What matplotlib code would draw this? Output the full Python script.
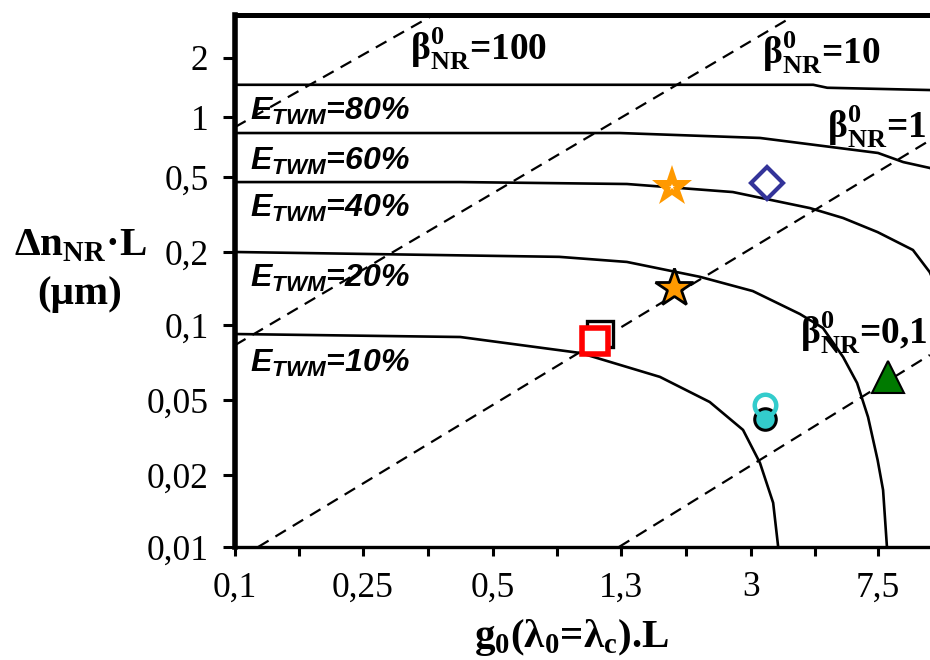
import numpy as np
import matplotlib
matplotlib.use("Agg")
import matplotlib.pyplot as plt
from matplotlib.ticker import FixedLocator, FixedFormatter, NullFormatter

# ---------------- data ----------------
x_tick_values = [0.1, 0.25, 0.5, 1.3, 3, 7.5]
x_tick_labels = ['0,1', '0,25', '0,5', '1,3', '3', '7,5']
y_tick_values = [0.01, 0.02, 0.05, 0.1, 0.2, 0.5, 1, 2]
y_tick_labels = ['0,01', '0,02', '0,05', '0,1', '0,2', '0,5', '1', '2']

# E_TWM iso-efficiency curves (g0.L , dn.L)
e80_x = [0.1, 4.7, 5.2, 11.5]
e80_y = [1.46, 1.46, 1.41, 1.37]
e60_x = [0.1, 1.29, 3.2, 7.5, 9.0, 10.9, 11.5]
e60_y = [0.831, 0.831, 0.785, 0.66, 0.594, 0.555, 0.53]
e40_x = [0.1, 0.42, 1.35, 2.67, 4.59, 5.83, 7.48, 9.65, 10.9, 11.5]
e40_y = [0.47, 0.47, 0.459, 0.416, 0.342, 0.303, 0.255, 0.205, 0.165, 0.14]
e20_x = [0.1, 0.82, 1.35, 2.16, 3.04, 4.27, 5.04, 5.83, 6.45, 6.98, 7.48, 7.78, 8.0]
e20_y = [0.2, 0.191, 0.182, 0.158, 0.138, 0.111, 0.0973, 0.0744, 0.0585, 0.0406, 0.024, 0.0173, 0.01]
e10_x = [0.1, 0.42, 0.96, 1.67, 2.3, 2.85, 3.2, 3.52, 3.65]
e10_y = [0.092, 0.0895, 0.0772, 0.0619, 0.0488, 0.0347, 0.0232, 0.0153, 0.01]
e_labels = ['80%', '60%', '40%', '20%', '10%']

# beta_NR iso-lines (dashed), end points
b100_x = [0.1, 0.357]
b100_y = [0.89, 3.24]
b10_x = [0.1, 3.98]
b10_y = [0.083, 3.2]
b1_x = [0.118, 10.7]
b1_y = [0.01, 0.75]
b01_x = [1.28, 10.9]
b01_y = [0.01, 0.0758]
beta_labels = ['100', '10', '1', '0,1']

# experimental points
star_open_x, star_open_y = [1.80], [0.442]
diamond_x, diamond_y = [3.37], [0.465]
star_edged_x, star_edged_y = [1.83], [0.142]
square_black_x, square_black_y = [1.11], [0.092]
square_red_x, square_red_y = [1.07], [0.0863]
circle_fill_x, circle_fill_y = [3.32], [0.0396]
circle_open_x, circle_open_y = [3.32], [0.047]
triangle_x, triangle_y = [8.06], [0.062]

# ---------------- layout (pixel positions of the ticks) ----------------
W, H = 930, 660
AX_L, AX_R, AX_B, AX_T = 235, 930, 547, 15
x_tick_pos = [0, 128, 258, 386, 516, 643]          # px from left spine
y_tick_pos = [0, 72, 147, 222, 295, 370, 430, 489] # px from bottom spine


def make_funcs(vals, pos):
    lv = np.log10(np.asarray(vals, float))
    ps = np.asarray(pos, float)
    s0 = (ps[1] - ps[0]) / (lv[1] - lv[0])
    s1 = (ps[-1] - ps[-2]) / (lv[-1] - lv[-2])

    def fwd(v):
        v = np.asarray(v, float)
        with np.errstate(divide='ignore', invalid='ignore'):
            l = np.log10(np.where(v > 0, v, np.nan))
            out = np.interp(l, lv, ps)
            out = np.where(l < lv[0], ps[0] + (l - lv[0]) * s0, out)
            out = np.where(l > lv[-1], ps[-1] + (l - lv[-1]) * s1, out)
        return out

    def inv(p):
        p = np.asarray(p, float)
        l = np.interp(p, ps, lv)
        l = np.where(p < ps[0], lv[0] + (p - ps[0]) / s0, l)
        l = np.where(p > ps[-1], lv[-1] + (p - ps[-1]) / s1, l)
        return 10 ** l

    return fwd, inv


plt.rcParams['mathtext.fontset'] = 'custom'
plt.rcParams['mathtext.rm'] = 'Liberation Serif:bold'
plt.rcParams['mathtext.bf'] = 'Liberation Serif:bold'
plt.rcParams['mathtext.it'] = 'Liberation Sans:bold:italic'

fig = plt.figure(figsize=(W / 100, H / 100), dpi=100)
ax = fig.add_axes([AX_L / W, (H - AX_B) / H, (AX_R - AX_L) / W, (AX_B - AX_T) / H])

fx, ix = make_funcs(x_tick_values, x_tick_pos)
fy, iy = make_funcs(y_tick_values, y_tick_pos)
ax.set_xscale('function', functions=(fx, ix))
ax.set_yscale('function', functions=(fy, iy))
ax.set_xlim(float(ix(0)), float(ix(AX_R - AX_L)))
ax.set_ylim(float(iy(0)), float(iy(AX_B - AX_T)))

# curves
for xs, ys in [(e80_x, e80_y), (e60_x, e60_y), (e40_x, e40_y), (e20_x, e20_y), (e10_x, e10_y)]:
    ax.plot(xs, ys, color='black', lw=1.9, solid_joinstyle='round', zorder=2)
for xs, ys in [(b100_x, b100_y), (b10_x, b10_y), (b1_x, b1_y), (b01_x, b01_y)]:
    ax.plot(xs, ys, color='black', lw=1.6, linestyle=(0, (5.5, 3.6)), zorder=2)

# markers
ax.plot(star_open_x, star_open_y, '*', color='#FF9900', ms=31, mew=0, zorder=5)
ax.plot(star_open_x, star_open_y, '*', color='white', ms=5, mew=0, zorder=6)
ax.plot(diamond_x, diamond_y, 'D', mfc='none', mec='#333399', ms=16, mew=3, zorder=5)
ax.plot(star_edged_x, star_edged_y, '*', mfc='#FF9900', mec='black', ms=29, mew=2, zorder=5)
ax.plot(square_black_x, square_black_y, 's', mfc='white', mec='black', ms=19, mew=2.4, zorder=5)
ax.plot(square_red_x, square_red_y, 's', mfc='white', mec='#FF0000', ms=19, mew=4, zorder=6)
ax.plot(circle_fill_x, circle_fill_y, 'o', mfc='#33CCCC', mec='black', ms=15.5, mew=2.2, zorder=5)
ax.plot(circle_open_x, circle_open_y, 'o', mfc='none', mec='#33CCCC', ms=15.5, mew=3.2, zorder=6)
ax.plot(triangle_x, triangle_y, '^', mfc='#007A00', mec='black', ms=23, mew=1.5, zorder=5)

# ticks
ax.xaxis.set_major_locator(FixedLocator(x_tick_values))
ax.xaxis.set_major_formatter(FixedFormatter(x_tick_labels))
mids = [(x_tick_pos[i] + x_tick_pos[i + 1]) / 2 for i in range(len(x_tick_pos) - 1)]
ax.xaxis.set_minor_locator(FixedLocator(list(ix(np.array(mids)))))
ax.xaxis.set_minor_formatter(NullFormatter())
ax.yaxis.set_major_locator(FixedLocator(y_tick_values))
ax.yaxis.set_major_formatter(FixedFormatter(y_tick_labels))
ax.yaxis.set_minor_locator(FixedLocator([]))

ax.tick_params(axis='x', which='both', direction='out', length=6.5, width=2.2, pad=11, labelsize=25.5)
ax.tick_params(axis='y', which='both', direction='out', length=9, width=2.2, pad=10, labelsize=25.5)
for lab in ax.get_xticklabels() + ax.get_yticklabels():
    lab.set_fontfamily('Liberation Serif')

# spines
ax.spines['right'].set_visible(False)
ax.spines['top'].set_linewidth(3.6)
ax.spines['left'].set_linewidth(4)
ax.spines['bottom'].set_linewidth(2.4)

# E_TWM labels
e_font = dict(family='Liberation Sans', weight='bold', style='italic', size=23)
e_pos_y = [120, 170, 217, 287, 372]
for lab, py in zip(e_labels, e_pos_y):
    ax.text((250 - AX_L) / (AX_R - AX_L), (AX_B - py) / (AX_B - AX_T),
            'E$_{TWM}$=' + lab, transform=ax.transAxes,
            ha='left', va='baseline', **e_font)

# beta labels
b_font = dict(family='Liberation Serif', weight='bold', size=27)
b_pos = [(410, 60), (762, 63), (827, 137), (800, 343)]
for lab, (px, py) in zip(beta_labels, b_pos):
    ax.text((px - AX_L) / (AX_R - AX_L), (AX_B - py) / (AX_B - AX_T),
            r'$\mathrm{\beta}^{0}_{\mathrm{NR}}$=' + lab, transform=ax.transAxes,
            ha='left', va='baseline', clip_on=False, **b_font)

# axis labels
lab_font = dict(family='Liberation Serif', weight='bold', size=29.5)
fig.text(80 / W, (H - 255) / H, r'Δn$_{\mathrm{NR}}$·L', ha='center', va='baseline', **lab_font)
fig.text(80 / W, (H - 304) / H, '(μm)', ha='center', va='baseline', **lab_font)
fig.text(572 / W, (H - 647) / H, r'g$_{0}$(λ$_{0}$=λ$_{\mathrm{c}}$).L', ha='center', va='baseline', **lab_font)

fig.savefig('out.png', dpi=100)
